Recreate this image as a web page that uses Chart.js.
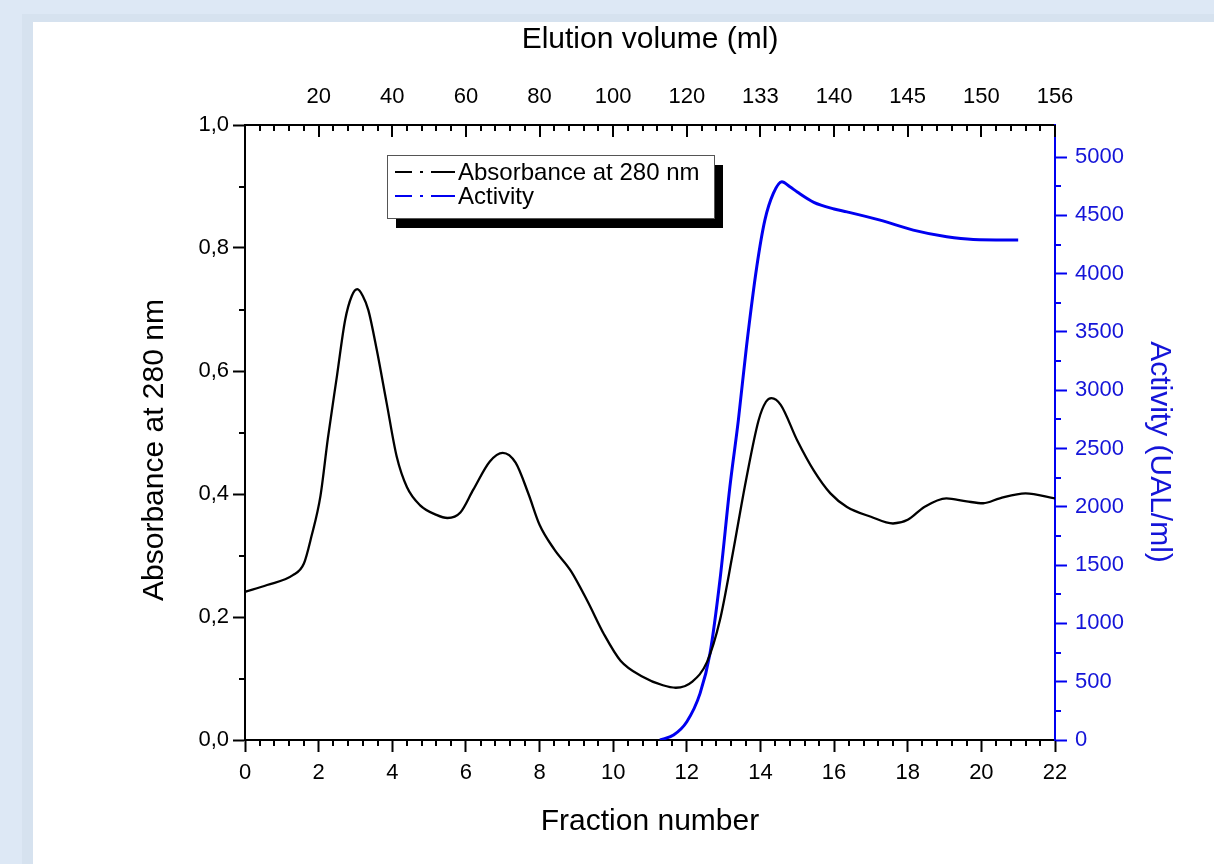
<!DOCTYPE html>
<html><head><meta charset="utf-8">
<script src="https://cdn.jsdelivr.net/npm/chart.js@4.4.1/dist/chart.umd.min.js"></script>
<style>html,body{margin:0;padding:0;background:#dde8f5;overflow:hidden}canvas{display:block}</style>
</head><body>
<canvas id="c" width="1214" height="864"></canvas>
<script>
// ---- data ----
const absFraction = [0, 0.6, 1.3, 1.6, 1.8, 2.05, 2.25, 2.5, 2.72, 2.9, 3.05, 3.2, 3.35, 3.58, 3.85, 4.12, 4.4, 4.75, 5.2, 5.5, 5.85, 6.2, 6.65, 7.0, 7.35, 7.7, 8.0, 8.4, 8.85, 9.3, 9.75, 10.2, 10.8, 11.35, 11.7, 12.15, 12.55, 12.9, 13.25, 13.6, 13.95, 14.15, 14.3, 14.55, 15.0, 15.45, 15.9, 16.35, 17.0, 17.6, 18.0, 18.45, 19.05, 19.6, 20.05, 20.5, 21.2, 22];
const absValue = [0.241, 0.252, 0.268, 0.287, 0.33, 0.397, 0.49, 0.593, 0.683, 0.722, 0.733, 0.722, 0.699, 0.634, 0.547, 0.461, 0.411, 0.382, 0.366, 0.361, 0.370, 0.407, 0.453, 0.467, 0.451, 0.40, 0.35, 0.31, 0.275, 0.226, 0.172, 0.129, 0.103, 0.089, 0.085, 0.095, 0.127, 0.195, 0.304, 0.42, 0.52, 0.55, 0.556, 0.545, 0.487, 0.438, 0.401, 0.379, 0.363, 0.352, 0.358, 0.379, 0.393, 0.388, 0.385, 0.393, 0.401, 0.393];
const actFraction = [11.27, 11.64, 12.0, 12.36, 12.63, 12.9, 13.17, 13.4, 13.62, 13.9, 14.12, 14.35, 14.58, 14.8, 15.0, 15.45, 16.0, 16.35, 17.25, 18.15, 19.06, 19.78, 21.0];
const actValue = [0, 43, 157, 400, 743, 1372, 2172, 2744, 3373, 4059, 4459, 4688, 4788, 4745, 4700, 4612, 4555, 4530, 4459, 4373, 4316, 4293, 4288];
const topTickFractions = [2, 4, 6, 8, 10, 12, 14, 16, 18, 20, 22];
const topTickLabels = ['20', '40', '60', '80', '100', '120', '133', '140', '145', '150', '156'];
const rightTickValues = [0, 500, 1000, 1500, 2000, 2500, 3000, 3500, 4000, 4500, 5000];
const seriesLabels = ['Absorbance at 280 nm', 'Activity'];
const axisTitles = {bottom: 'Fraction number', top: 'Elution volume (ml)', left: 'Absorbance at 280 nm', right: 'Activity (UAL/ml)'};

const FONT = '"Liberation Sans", Arial, sans-serif';
const BLUE = '#0000f0';
const BLUE_TXT = '#1414d8';

const bgPlugin = {
  id: 'bg',
  beforeDraw(chart) {
    const ctx = chart.ctx;
    ctx.save();
    ctx.fillStyle = '#dde8f5';
    ctx.fillRect(0, 0, chart.width, chart.height);
    ctx.fillStyle = '#d6e2ef';
    ctx.fillRect(22, 14, chart.width - 22, chart.height - 14);
    ctx.fillStyle = '#ffffff';
    ctx.fillRect(33, 22, chart.width - 33, chart.height - 22);
    ctx.restore();
  }
};

function minorLoop(min, max, step, skipEvery) {
  const out = [];
  const n = Math.round((max - min) / step);
  for (let k = 0; k <= n; k++) {
    if (skipEvery && k % skipEvery === 0) continue;
    out.push(min + k * step);
  }
  return out;
}

const ticksPlugin = {
  id: 'extraTicks',
  afterDraw(chart) {
    const ctx = chart.ctx;
    const {x, x2, y, y2} = chart.scales;
    const ca = chart.chartArea;
    ctx.save();
    ctx.lineWidth = 2;
    ctx.strokeStyle = '#000';
    ctx.beginPath();
    minorLoop(0, 22, 0.4, 5).forEach(v => {
      const px = Math.round(x.getPixelForValue(v));
      ctx.moveTo(px, ca.bottom); ctx.lineTo(px, ca.bottom + 6);
    });
    minorLoop(0, 22, 0.4, 0).forEach((v, k) => {
      const px = Math.round(x2.getPixelForValue(v));
      const len = (k % 5 === 0) ? 12 : 6;
      ctx.moveTo(px, ca.top); ctx.lineTo(px, ca.top + len);
    });
    minorLoop(0.1, 0.9, 0.2, 0).forEach(v => {
      const py = Math.round(y.getPixelForValue(v));
      ctx.moveTo(ca.left, py); ctx.lineTo(ca.left - 6, py);
    });
    ctx.stroke();
    ctx.strokeStyle = BLUE;
    ctx.beginPath();
    minorLoop(250, 4750, 500, 0).forEach(v => {
      const py = Math.round(y2.getPixelForValue(v));
      ctx.moveTo(ca.right, py); ctx.lineTo(ca.right + 6, py);
    });
    ctx.stroke();
    ctx.restore();
  }
};

const yTitlesPlugin = {
  id: 'yTitles',
  afterDraw(chart) {
    const ctx = chart.ctx;
    ctx.save();
    ctx.font = '30px ' + FONT;
    ctx.textAlign = 'center';
    ctx.textBaseline = 'alphabetic';
    ctx.fillStyle = '#000';
    ctx.save();
    ctx.translate(163, 450);
    ctx.rotate(-Math.PI / 2);
    ctx.fillText(axisTitles.left, 0, 0);
    ctx.restore();
    ctx.fillStyle = BLUE_TXT;
    ctx.translate(1151, 452);
    ctx.rotate(Math.PI / 2);
    ctx.fillText(axisTitles.right, 0, 0);
    ctx.restore();
  }
};

const legendPlugin = {
  id: 'boxLegend',
  afterDraw(chart) {
    const ctx = chart.ctx;
    const bx = 387, by = 155, bw = 327, bh = 63;
    ctx.save();
    ctx.fillStyle = '#000';
    ctx.fillRect(bx + 9, by + 10, bw, bh);
    ctx.fillStyle = '#fff';
    ctx.fillRect(bx, by, bw, bh);
    ctx.strokeStyle = '#555';
    ctx.lineWidth = 1;
    ctx.strokeRect(bx + 0.5, by + 0.5, bw, bh);
    const rows = [172, 196];
    ctx.font = '24px ' + FONT;
    ctx.textBaseline = 'middle';
    ctx.textAlign = 'left';
    chart.data.datasets.forEach((ds, i) => {
      const ry = rows[i];
      ctx.strokeStyle = ds.borderColor;
      ctx.lineWidth = 2.2;
      ctx.setLineDash([17, 8, 3, 8, 24, 200]);
      ctx.beginPath();
      ctx.moveTo(395, ry); ctx.lineTo(455, ry);
      ctx.stroke();
      ctx.setLineDash([]);
      ctx.fillStyle = '#000';
      ctx.fillText(ds.label, 458, ry + 1);
    });
    ctx.restore();
  }
};

new Chart(document.getElementById('c'), {
  type: 'line',
  data: {
    datasets: [
      {
        label: seriesLabels[0],
        data: absFraction.map((f, i) => ({x: f, y: absValue[i]})),
        borderColor: '#000', borderWidth: 2.3, pointRadius: 0,
        cubicInterpolationMode: 'monotone', xAxisID: 'x', yAxisID: 'y', fill: false
      },
      {
        label: seriesLabels[1],
        data: actFraction.map((f, i) => ({x: f, y: actValue[i]})),
        borderColor: BLUE, borderWidth: 3, pointRadius: 0,
        cubicInterpolationMode: 'monotone', xAxisID: 'x', yAxisID: 'y2', fill: false
      }
    ]
  },
  options: {
    responsive: false,
    animation: false,
    devicePixelRatio: 1,
    layout: {padding: 0},
    plugins: {legend: {display: false}, tooltip: {enabled: false}},
    scales: {
      x: {
        type: 'linear', position: 'bottom', min: 0, max: 22, bounds: 'data',
        afterFit: s => { s.height = 124; },
        border: {display: true, color: '#000', width: 2},
        grid: {drawOnChartArea: false, drawTicks: true, tickLength: 12, tickColor: '#000', tickWidth: 2},
        ticks: {stepSize: 2, autoSkip: false, maxRotation: 0, padding: 8, maxTicksLimit: 100, color: '#000', font: {family: FONT, size: 22}},
        title: {display: true, text: axisTitles.bottom, color: '#000', font: {family: FONT, size: 30}, padding: {top: 0, bottom: 24}}
      },
      x2: {
        type: 'linear', position: 'top', min: 0, max: 22, bounds: 'data',
        afterFit: s => { s.height = 125; },
        border: {display: true, color: '#000', width: 2},
        grid: {drawOnChartArea: false, drawTicks: false},
        ticks: {
          stepSize: 2, autoSkip: false, maxRotation: 0, padding: 15, maxTicksLimit: 100, color: '#000', font: {family: FONT, size: 22},
          callback: v => { const i = topTickFractions.indexOf(v); return i < 0 ? '' : topTickLabels[i]; }
        },
        title: {display: true, text: axisTitles.top, color: '#000', font: {family: FONT, size: 30}, padding: {top: 22, bottom: 0}}
      },
      y: {
        type: 'linear', position: 'left', min: 0, max: 1, bounds: 'data',
        afterFit: s => { s.width = 245; },
        border: {display: true, color: '#000', width: 2},
        grid: {drawOnChartArea: false, drawTicks: true, tickLength: 12, tickColor: '#000', tickWidth: 2},
        ticks: {stepSize: 0.2, padding: 4, maxTicksLimit: 100, color: '#000', font: {family: FONT, size: 22},
          callback: v => v.toFixed(1).replace('.', ',')}
      },
      y2: {
        type: 'linear', position: 'right', min: 0, max: 5275, bounds: 'data',
        afterFit: s => { s.width = 159; },
        afterBuildTicks: s => { s.ticks = rightTickValues.map(v => ({value: v})); },
        border: {display: true, color: BLUE, width: 2},
        grid: {drawOnChartArea: false, drawTicks: true, tickLength: 12, tickColor: BLUE, tickWidth: 2},
        ticks: {padding: 8, color: BLUE_TXT, font: {family: FONT, size: 22}, callback: v => String(v)}
      }
    }
  },
  plugins: [bgPlugin, ticksPlugin, yTitlesPlugin, legendPlugin]
});
</script>
</body></html>
